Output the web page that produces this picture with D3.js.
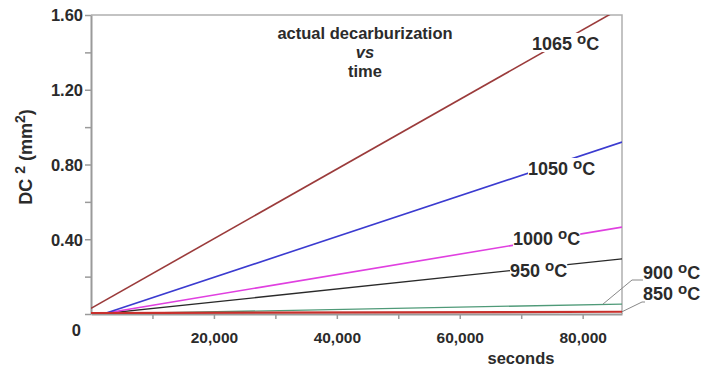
<!DOCTYPE html>
<html><head><meta charset="utf-8">
<script src="https://cdn.jsdelivr.net/npm/d3@7"></script>
<style>body{margin:0;background:#fff;overflow:hidden}</style>
</head><body>
<svg id="c" width="702" height="370"></svg>
<script>
// ---- data ----
const seriesNames = ["1065", "1050", "1000", "950", "900", "850"];
const startTime  = [0,    2000, 1500, 1500, 1000, 0];
const startValue = [0.03, 0,    0,    0,    0,    0.005];
const endTime    = [86400, 86400, 86400, 86400, 86400, 86400];
const endValue   = [1.64, 0.92, 0.465, 0.295, 0.053, 0.012];
const yTickValues = [0, 0.2, 0.4, 0.6, 0.8, 1.0, 1.2, 1.4, 1.6];
const yTickLabels = ["0", "", "0.40", "", "0.80", "", "1.20", "", "1.60"];
const xTickValues = [10000, 20000, 30000, 40000, 50000, 60000, 70000, 80000];
const xTickLabels = ["", "20,000", "", "40,000", "", "60,000", "", "80,000"];
const titleLines = ["actual decarburization", "vs", "time"];

// ---- style / layout ----
const colors = ["#9b3b3b", "#3b3bd0", "#e040e0", "#2a2a2a", "#4f9a78", "#c8302c"];
const widths = [1.6, 1.6, 1.6, 1.3, 1.3, 2.2];
// label anchor in pixels: [left x, baseline y]
const labelPos = [[532, 50], [528, 175], [513, 245], [510, 277], [643, 279], [643, 300]];

const m = {l: 91, r: 622, t: 15, b: 314};
const svg = d3.select("#c");
const font = "'Liberation Sans', Arial, sans-serif";
const ink = "#2b2b2b";
const axisGray = "#9a9a9a";

const x = d3.scaleLinear([0, 86400], [m.l, m.r]);
const y = d3.scaleLinear([0, 1.6], [m.b, m.t]);

// frame top & right
svg.append("path")
  .attr("d", `M${m.l},${m.t}H${m.r}V${m.b}`)
  .attr("fill", "none").attr("stroke", "#b0b0b0").attr("stroke-width", 1.5);

// y axis
const yAxis = d3.axisLeft(y).tickValues(yTickValues).tickSize(6).tickSizeOuter(0)
  .tickFormat((d, i) => yTickLabels[i]);
const gy = svg.append("g").attr("transform", `translate(${m.l},0)`).call(yAxis);
gy.select(".domain").attr("stroke", axisGray).attr("stroke-width", 2);
gy.selectAll(".tick line").attr("stroke", axisGray).attr("stroke-width", 1.5);
gy.selectAll(".tick text").attr("font-family", font).attr("font-weight", "bold")
  .attr("font-size", 16.5).attr("fill", ink).attr("x", -8)
  .attr("dy", (d) => d === 0 ? "1.3em" : "0.35em")
  .attr("dx", (d) => d === 0 ? -2 : 0);

// x axis
const xAxis = d3.axisBottom(x).tickValues(xTickValues).tickSize(5).tickSizeOuter(0)
  .tickFormat((d, i) => xTickLabels[i]);
const gx = svg.append("g").attr("transform", `translate(0,${m.b})`).call(xAxis);
gx.select(".domain").attr("stroke", axisGray).attr("stroke-width", 2);
gx.selectAll(".tick line").attr("stroke", axisGray).attr("stroke-width", 1.5);
gx.selectAll(".tick text").attr("font-family", font).attr("font-weight", "bold")
  .attr("font-size", 15.5).attr("fill", ink).attr("y", 18).attr("dy", "0.71em");

// x axis title
svg.append("text").attr("x", 521).attr("y", 364).attr("text-anchor", "middle")
  .attr("font-family", font).attr("font-weight", "bold").attr("font-size", 16.5)
  .attr("fill", ink).text("seconds");

// y axis title
const yt = svg.append("text").attr("transform", "translate(32,157) rotate(-90)")
  .attr("text-anchor", "middle").attr("font-family", font).attr("font-weight", "bold")
  .attr("font-size", 18).attr("fill", ink);
yt.append("tspan").text("DC ");
yt.append("tspan").attr("dy", -7).attr("font-size", 14).text("2");
yt.append("tspan").attr("dy", 7).text(" (mm");
yt.append("tspan").attr("dy", -7).attr("font-size", 14).text("2");
yt.append("tspan").attr("dy", 7).text(")");

// title
svg.append("g").selectAll("text").data(titleLines).join("text")
  .attr("x", 365).attr("y", (d, i) => 39 + i * 19).attr("text-anchor", "middle")
  .attr("font-family", font).attr("font-weight", "bold").attr("font-size", 16.5)
  .attr("font-style", (d, i) => i === 1 ? "italic" : "normal")
  .attr("fill", ink).text(d => d);

// lines
svg.append("clipPath").attr("id", "clip").append("rect")
  .attr("x", m.l).attr("y", m.t).attr("width", m.r - m.l).attr("height", m.b - m.t);
const line = d3.line().x(d => x(d[0])).y(d => y(d[1]));
const seriesData = seriesNames.map((n, i) => [[startTime[i], startValue[i]], [endTime[i], endValue[i]]]);
const order = [4, 3, 2, 1, 0, 5];
svg.append("g").attr("clip-path", "url(#clip)").selectAll("path").data(order).join("path")
  .attr("d", i => line(seriesData[i])).attr("fill", "none")
  .attr("stroke", i => colors[i]).attr("stroke-width", i => widths[i]);

// leader lines for 900 / 850
svg.append("path").attr("d", `M${x(83300)},${y(0.053)}L632,280H643`)
  .attr("fill", "none").attr("stroke", "#888").attr("stroke-width", 1);
svg.append("path").attr("d", `M${x(86400)},${y(0.012)}L642,302H645`)
  .attr("fill", "none").attr("stroke", "#888").attr("stroke-width", 1);

// labels
const rectLayer = svg.append("g");
const textLayer = svg.append("g");
seriesNames.forEach((n, i) => {
  const t = textLayer.append("text").attr("x", labelPos[i][0]).attr("y", labelPos[i][1])
    .attr("font-family", font).attr("font-weight", "bold").attr("font-size", 18).attr("fill", ink);
  t.append("tspan").text(n + " ");
  t.append("tspan").attr("dy", -6).attr("font-size", 15).text("o");
  t.append("tspan").attr("dy", 6).text("C");
  if (i < 4) {
    const bb = t.node().getBBox();
    rectLayer.append("rect").attr("x", bb.x).attr("y", bb.y + 3).attr("width", bb.width)
      .attr("height", bb.height - 5).attr("fill", "#fff");
  }
});
</script>
</body></html>
